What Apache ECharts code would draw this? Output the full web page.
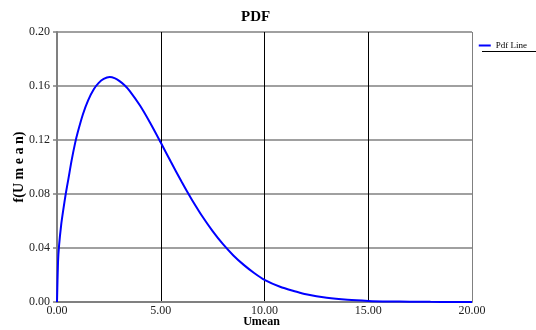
<!DOCTYPE html>
<html><head><meta charset="utf-8">
<script src="https://cdn.jsdelivr.net/npm/echarts@6/dist/echarts.min.js"></script>
<style>html,body{margin:0;padding:0;background:#fff}#c{width:536px;height:330px}</style>
</head><body><div id="c"></div>
<script>
const umean = [0, 0.05, 0.1, 0.2, 0.3, 0.42, 0.55, 0.7, 0.87, 1, 1.25, 1.5, 1.78, 2, 2.25, 2.54, 2.8, 3, 3.27, 3.5, 4, 4.5, 5, 5.5, 6, 6.27, 6.5, 7, 7.5, 8, 8.5, 9, 9.5, 10, 10.75, 11.5, 12, 13, 14, 15, 16, 17, 18, 19, 20];
const pdf = [0, 0.030, 0.042, 0.057, 0.068, 0.080, 0.0912, 0.1045, 0.1175, 0.1257, 0.1391, 0.1494, 0.1577, 0.1621, 0.1652, 0.1666, 0.1656, 0.1638, 0.1604, 0.1564, 0.1455, 0.1324, 0.1181, 0.1035, 0.0892, 0.0818, 0.0758, 0.0635, 0.0525, 0.0428, 0.0345, 0.0275, 0.0215, 0.0164, 0.0113, 0.0078, 0.0057, 0.0031, 0.0016, 0.0008, 0.0004, 0.0002, 0.0001, 0.00005, 0.00002];
const xTicks = [0, 5, 10, 15, 20];
const yTicks = [0, 0.04, 0.08, 0.12, 0.16, 0.20];
const seriesName = 'Pdf Line';

const font = 'Liberation Serif';
const chart = echarts.init(document.getElementById('c'));
chart.setOption({
  animation: false,
  title: { text: 'PDF', left: 236, top: 5,
    textStyle: { fontFamily: font, fontSize: 15, fontWeight: 'bold', color: '#000' } },
  legend: { right: 4, top: 36, itemWidth: 12, itemHeight: 2, itemGap: 4,
    icon: 'rect',
    textStyle: { fontFamily: font, fontSize: 9, color: '#000' }, data: [seriesName] },
  grid: { left: 57, right: 64, top: 32, bottom: 28, outerBoundsMode: 'none', containLabel: false },
  xAxis: { type: 'value', min: xTicks[0], max: xTicks[xTicks.length-1], interval: 5,
    name: 'Umean', nameLocation: 'middle', nameGap: 14, nameMoveOverlap: false,
    nameTextStyle: { fontFamily: font, fontSize: 12, fontWeight: 'bold', color: '#000', padding:[0,0,0,-6] },
    axisLine: { lineStyle: { color: '#808080', width: 2 } },
    axisTick: { show: false },
    axisLabel: { fontFamily: font, fontSize: 12, color: '#222', margin: 3, formatter: v => v.toFixed(2) },
    splitLine: { show: true, lineStyle: { color: ['#808080','#000','#000','#000','#808080'], width: 1 } } },
  yAxis: { type: 'value', min: yTicks[0], max: yTicks[yTicks.length-1], interval: 0.04,
    name: 'f(U m e a n)', nameLocation: 'middle', nameGap: 31, nameRotate: 90, nameMoveOverlap: false,
    nameTextStyle: { fontFamily: font, fontSize: 14, fontWeight: 'bold', color: '#000' },
    axisLine: { show: true, lineStyle: { color: '#808080', width: 2 } },
    axisTick: { show: true, length: 4, lineStyle: { color: '#808080', width: 1.5 } },
    axisLabel: { fontFamily: font, fontSize: 12, color: '#222', margin: 7, formatter: v => v.toFixed(2) },
    splitLine: { show: true, lineStyle: { color: '#808080', width: 1.5 } } },
  graphic: [{ type: 'line', shape: { x1: 482, y1: 51.5, x2: 536, y2: 51.5 }, style: { stroke: '#000', lineWidth: 1 } }],
  series: [{ name: seriesName, type: 'line', smooth: 0.25, showSymbol: false,
    data: umean.map((x, i) => [x, pdf[i]]),
    lineStyle: { color: '#0000ff', width: 2 }, itemStyle: { color: '#0000ff' } }]
});
</script></body></html>
